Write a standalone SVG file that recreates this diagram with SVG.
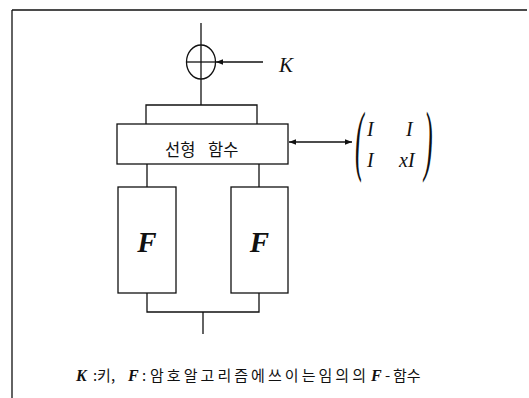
<svg xmlns="http://www.w3.org/2000/svg" width="529" height="398" viewBox="0 0 529 398">
<style>
.ln{stroke:#111;stroke-width:1.3;fill:none}
.bx{stroke:#111;stroke-width:1.3;fill:#fff}
.ser{font-family:"Liberation Serif","Times New Roman",serif;font-style:italic;fill:#111}
.kor{font-family:"Noto Sans CJK KR","Noto Sans",sans-serif;fill:#111}
.cap{font-size:15px}
.capv{font-family:"Liberation Serif","Times New Roman",serif;font-style:italic;font-weight:bold;font-size:16px;fill:#111}
</style>
<defs>
<marker id="ah" viewBox="0 0 10 10" refX="10" refY="5" markerWidth="7" markerHeight="7" markerUnits="userSpaceOnUse" orient="auto-start-reverse">
<path d="M0,1 L10,5 L0,9 z" fill="#111"/>
</marker>
</defs>
<rect width="529" height="398" fill="#fff"/>
<g id="frame">
<path class="ln" d="M12,10 H527 M12,10 V398"/>
</g>
<g id="connectors">
<path class="ln" d="M201,23 V105"/>
<path class="ln" d="M263,62 H216" marker-end="url(#ah)"/>
<path class="ln" d="M146,124 V105 H257 V124"/>
<path class="ln" d="M147,164 V187 M259,164 V187"/>
<path class="ln" d="M147,293 V312 H259 V293 M203,312 V334"/>
<path class="ln" d="M289,142 H352" marker-start="url(#ah)" marker-end="url(#ah)"/>
</g>
<g id="xor">
<ellipse class="ln" cx="201" cy="62" rx="14.5" ry="17"/>
<path class="ln" d="M186.5,62 H215.5"/>
</g>
<g id="key">
<text class="ser" x="279" y="72" font-size="21">K</text>
</g>
<g id="linear">
<rect class="bx" x="117" y="124" width="171" height="40"/>
<text class="kor" y="156" font-size="16.5"><tspan x="165">선형</tspan><tspan x="208">함수</tspan></text>
</g>
<g id="matrix">
<text class="ser" font-size="26" transform="translate(355,166) scale(1,3)" font-style="normal">(</text>
<text class="ser" font-size="26" transform="translate(424,166) scale(1,3)" font-style="normal">)</text>
<text class="ser" x="367" y="136" font-size="20">I</text>
<text class="ser" x="406" y="136" font-size="20">I</text>
<text class="ser" x="367" y="167" font-size="20">I</text>
<text class="ser" x="399" y="167" font-size="20">xI</text>
</g>
<g id="f1">
<rect class="bx" x="118" y="187" width="58" height="106"/>
<text class="ser" x="147" y="252" font-size="29" font-weight="bold" text-anchor="middle">F</text>
</g>
<g id="f2">
<rect class="bx" x="231" y="187" width="57" height="106"/>
<text class="ser" x="259.5" y="252" font-size="29" font-weight="bold" text-anchor="middle">F</text>
</g>
<g id="caption">
<text y="381"><tspan class="capv" x="76">K</tspan><tspan class="kor cap" x="93">:</tspan><tspan class="kor cap" x="97">키</tspan><tspan class="kor cap" x="111">,</tspan><tspan class="capv" x="128">F</tspan><tspan class="kor cap" x="142">:</tspan><tspan class="kor cap" x="150" textLength="216" lengthAdjust="spacing">암호알고리즘에쓰이는임의의</tspan><tspan class="capv" x="371">F</tspan><tspan class="kor cap" x="385">-</tspan><tspan class="kor cap" x="393">함수</tspan></text>
</g>
</svg>
